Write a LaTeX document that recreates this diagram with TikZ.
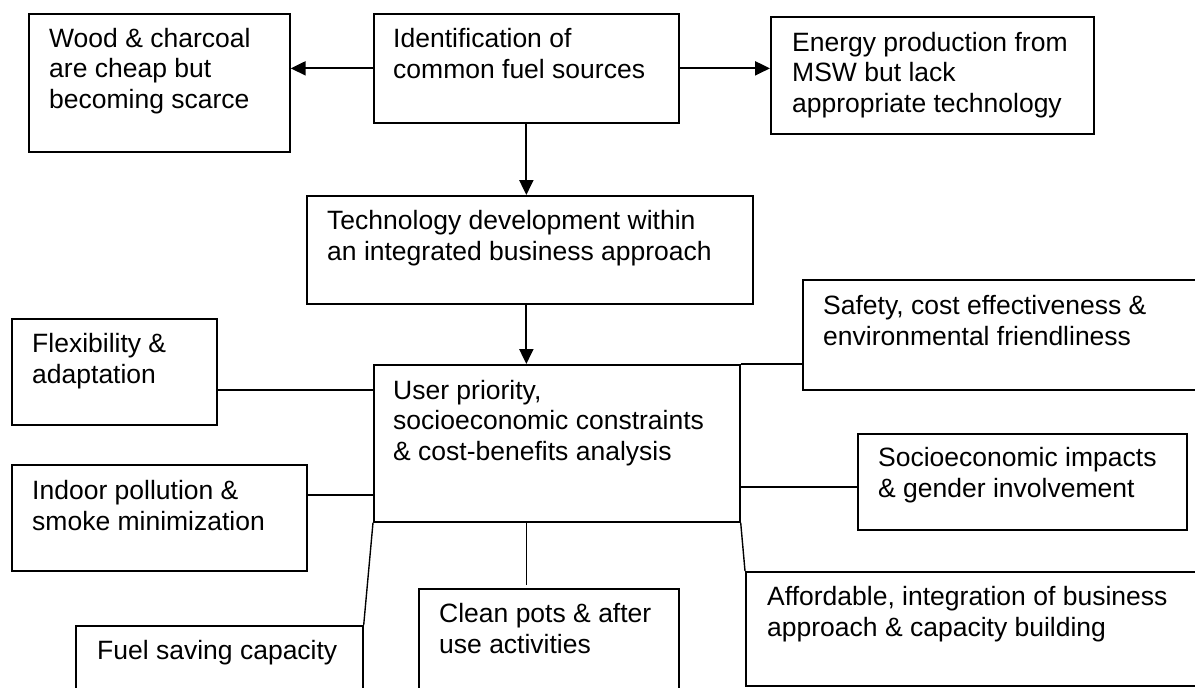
\documentclass[tikz,border=0pt]{standalone}
\usepackage{fontspec}
\setmainfont{Liberation Sans}
\usetikzlibrary{arrows.meta}
\begin{document}
\begin{tikzpicture}[x=1pt,y=-1pt,
  box/.style={draw, line width=1.7pt, anchor=north west, inner sep=0pt},
  txt/.style={anchor=base west, align=left, inner sep=0pt, font=\fontsize{26.5}{30.5}\selectfont},
  arr/.style={line width=2.2pt, -{Triangle[length=15pt,width=14pt]}},
  link/.style={line width=1.4pt}]
\clip (0,0) rectangle (1195,688);
% boxes
\node[box, minimum width=261pt, minimum height=138pt] (wood) at (28,13) {};
\node[box, minimum width=305pt, minimum height=109pt] (ident) at (373,13) {};
\node[box, minimum width=323pt, minimum height=117pt] (energy) at (770,16) {};
\node[box, minimum width=446pt, minimum height=108pt] (tech) at (306,195) {};
\node[box, minimum width=366pt, minimum height=157pt] (user) at (373,364) {};
\node[box, minimum width=205pt, minimum height=106pt] (flex) at (11,318) {};
\node[box, minimum width=295pt, minimum height=106pt] (indoor) at (11,464) {};
\node[box, minimum width=287pt, minimum height=100pt] (fuel) at (75,625) {};
\node[box, minimum width=260pt, minimum height=120pt] (clean) at (418,588) {};
\node[box, minimum width=480pt, minimum height=114pt] (afford) at (745,571) {};
\node[box, minimum width=420pt, minimum height=110pt] (safety) at (802,279) {};
\node[box, minimum width=329pt, minimum height=96pt] (socio) at (857,433) {};
% texts (anchored at the baseline of their last line)
\node[txt] (woodt) at (49,108) {Wood \& charcoal\\are cheap but\\becoming scarce};
\node[txt] (identt) at (393,78) {Identification of\\common fuel sources};
\node[txt] (energyt) at (792,112) {Energy production from\\MSW but lack\\appropriate technology};
\node[txt] (techt) at (327,260) {Technology development within\\an integrated business approach};
\node[txt] (usert) at (393,460) {User priority,\\socioeconomic constraints\\\& cost-benefits analysis};
\node[txt] (flext) at (32,383) {Flexibility \&\\adaptation};
\node[txt] (indoort) at (32,530) {Indoor pollution \&\\smoke minimization};
\node[txt] (fuelt) at (97,659) {Fuel saving capacity};
\node[txt] (cleant) at (439,653) {Clean pots \& after\\use activities};
\node[txt] (affordt) at (767,636) {Affordable, integration of business\\approach \& capacity building};
\node[txt] (safetyt) at (823,345) {Safety, cost effectiveness \&\\environmental friendliness};
\node[txt] (sociot) at (878,497) {Socioeconomic impacts\\\& gender involvement};
% arrows
\draw[arr] (ident.west) -- (ident.west -| wood.east);
\draw[arr] (ident.east) -- (ident.east -| energy.west);
\draw[arr] (ident.south) -- (ident.south |- tech.north);
\draw[arr] (ident.south |- tech.south) -- (ident.south |- user.north);
% links
\draw[link] ([yshift=-18pt]flex.east) -- ([yshift=-18pt]flex.east -| user.west);
\draw[link] ([yshift=23pt]indoor.east) -- ([yshift=23pt]indoor.east -| user.west);
\draw[link] (user.south west) -- (fuel.north east);
\draw[link] (ident.south |- user.south) -- ([yshift=3pt]ident.south |- clean.north);
\draw[link] (user.south east) -- (afford.north west);
\draw[link] (user.north east) -- (user.north east -| safety.west);
\draw[link] ([yshift=-5pt]socio.west) -- ([yshift=-5pt]socio.west -| user.east);
\end{tikzpicture}
\end{document}
